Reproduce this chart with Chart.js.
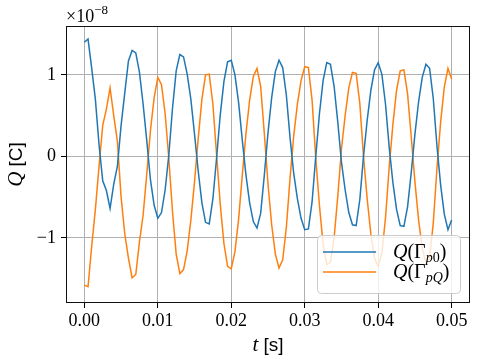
<!DOCTYPE html>
<html>
<head>
<meta charset="utf-8">
<script src="https://cdn.jsdelivr.net/npm/chart.js@4.4.0/dist/chart.umd.min.js"></script>
<style>
  html, body { margin: 0; padding: 0; background: #fff; }
</style>
</head>
<body>
<canvas id="js--chart" width="479" height="363"></canvas>
<script>
// sample times [s]
const times = [
  0, 0.0005, 0.001, 0.0015, 0.002, 0.0025, 0.003, 0.0035, 0.004, 0.0045,
  0.005, 0.0055, 0.006, 0.0065, 0.007, 0.0075, 0.008, 0.0085, 0.009, 0.0095,
  0.01, 0.0105, 0.011, 0.0115, 0.012, 0.0125, 0.013, 0.0135, 0.014, 0.0145,
  0.015, 0.0155, 0.016, 0.0165, 0.017, 0.0175, 0.018, 0.0185, 0.019, 0.0195,
  0.02, 0.0205, 0.021, 0.0215, 0.022, 0.0225, 0.023, 0.0235, 0.024, 0.0245,
  0.025, 0.0255, 0.026, 0.0265, 0.027, 0.0275, 0.028, 0.0285, 0.029, 0.0295,
  0.03, 0.0305, 0.031, 0.0315, 0.032, 0.0325, 0.033, 0.0335, 0.034, 0.0345,
  0.035, 0.0355, 0.036, 0.0365, 0.037, 0.0375, 0.038, 0.0385, 0.039, 0.0395,
  0.04, 0.0405, 0.041, 0.0415, 0.042, 0.0425, 0.043, 0.0435, 0.044, 0.0445,
  0.045, 0.0455, 0.046, 0.0465, 0.047, 0.0475, 0.048, 0.0485, 0.049, 0.0495,
  0.05
];

// charge in units of 1e-8 C
const qP0 = [
  1.40, 1.44, 1.08, 0.70, 0.14, -0.30, -0.42, -0.64, -0.34, -0.12,
  0.38, 0.78, 1.17, 1.30, 1.27, 1.03, 0.64, 0.19, -0.29, -0.60,
  -0.76, -0.69, -0.41, 0.02, 0.59, 1.05, 1.25, 1.22, 1.01, 0.70,
  0.27, -0.18, -0.57, -0.81, -0.83, -0.52, -0.02, 0.51, 0.92, 1.16,
  1.18, 1.00, 0.66, 0.20, -0.23, -0.57, -0.80, -0.88, -0.70, -0.23,
  0.29, 0.72, 1.04, 1.18, 1.09, 0.75, 0.23, -0.21, -0.52, -0.76,
  -0.90, -0.89, -0.56, 0.00, 0.52, 0.93, 1.15, 1.13, 0.86, 0.42,
  -0.07, -0.41, -0.69, -0.84, -0.85, -0.53, 0.00, 0.44, 0.81, 1.06,
  1.15, 1.01, 0.64, 0.11, -0.32, -0.65, -0.85, -0.86, -0.62, -0.20,
  0.27, 0.67, 0.97, 1.13, 1.08, 0.71, 0.13, -0.35, -0.71, -0.90,
  -0.78
];

const qPQ = [
  -1.58, -1.60, -1.10, -0.65, -0.12, 0.38, 0.58, 0.84, 0.50, 0.18,
  -0.50, -0.95, -1.25, -1.49, -1.45, -1.05, -0.72, -0.21, 0.32, 0.72,
  0.97, 0.88, 0.52, -0.03, -0.68, -1.20, -1.44, -1.39, -1.16, -0.78,
  -0.31, 0.22, 0.70, 1.00, 1.01, 0.64, 0.02, -0.59, -1.07, -1.35,
  -1.38, -1.17, -0.77, -0.23, 0.28, 0.69, 0.98, 1.08, 0.86, 0.28,
  -0.34, -0.84, -1.20, -1.37, -1.27, -0.87, -0.27, 0.25, 0.64, 0.93,
  1.10, 1.09, 0.69, -0.02, -0.60, -1.08, -1.33, -1.30, -1.00, -0.49,
  0.09, 0.50, 0.84, 1.03, 1.02, 0.65, 0.00, -0.52, -0.95, -1.25,
  -1.35, -1.19, -0.75, -0.13, 0.39, 0.81, 1.05, 1.06, 0.77, 0.24,
  -0.31, -0.78, -1.13, -1.30, -1.25, -0.82, -0.15, 0.42, 0.85, 1.08,
  0.95
];

const xTicks = [0, 0.01, 0.02, 0.03, 0.04, 0.05];
const yTicks = [-1, 0, 1];
const legendSubs = ["p0", "pQ"];
const colors = ["#1f77b4", "#ff7f0e"];

function toPoints(vals) {
  return vals.map(function (v, i) { return { x: times[i], y: v }; });
}

const SERIF = "'Liberation Serif', 'DejaVu Serif', serif";
const SANS = "'Liberation Sans', 'DejaVu Sans', sans-serif";

function drawRuns(ctx, runs, x, y, align) {
  let w = 0;
  runs.forEach(function (r) { ctx.font = r.font; w += ctx.measureText(r.text).width; });
  let cx = align === "center" ? x - w / 2 : x;
  runs.forEach(function (r) {
    ctx.font = r.font;
    ctx.fillText(r.text, cx, y + (r.dy || 0));
    cx += ctx.measureText(r.text).width;
  });
}

// box, axis labels, offset text and legend
const extras = {
  id: "extras",
  afterDraw(chart) {
    const ctx = chart.ctx;
    const a = chart.chartArea;
    ctx.save();
    ctx.strokeStyle = "#111";
    ctx.lineWidth = 1;
    ctx.strokeRect(a.left + 0.5, a.top + 0.5, a.right - a.left - 1, a.bottom - a.top - 1);

    ctx.fillStyle = "#000";
    ctx.textBaseline = "alphabetic";
    ctx.textAlign = "left";

    // x label
    drawRuns(ctx, [
      { text: "t", font: "italic 21px " + SERIF },
      { text: " [s]", font: "19px " + SANS }
    ], (a.left + a.right) / 2, 351, "center");

    // y label
    ctx.save();
    ctx.translate(22, (a.top + a.bottom) / 2);
    ctx.rotate(-Math.PI / 2);
    drawRuns(ctx, [
      { text: "Q", font: "italic 21px " + SERIF },
      { text: " [C]", font: "19px " + SANS }
    ], 0, 0, "center");
    ctx.restore();

    // offset text
    drawRuns(ctx, [
      { text: "\u00d710", font: "18px " + SERIF },
      { text: "\u22128", font: "13px " + SERIF, dy: -8 }
    ], 66, 22, "left");

    // legend
    const lx = 317, ly = 235, lw = 143, lh = 58;
    ctx.beginPath();
    ctx.roundRect(lx + 0.5, ly + 0.5, lw, lh, 4);
    ctx.fillStyle = "rgba(255,255,255,0.8)";
    ctx.fill();
    ctx.strokeStyle = "#cccccc";
    ctx.lineWidth = 1;
    ctx.stroke();

    legendSubs.forEach(function (sub, k) {
      const yy = 252 + k * 20;
      ctx.strokeStyle = colors[k];
      ctx.lineWidth = 1.5;
      ctx.beginPath();
      ctx.moveTo(323, yy);
      ctx.lineTo(376, yy);
      ctx.stroke();
      ctx.fillStyle = "#000";
      drawRuns(ctx, [
        { text: "Q", font: "italic 20px " + SERIF },
        { text: "(\u0393", font: "20px " + SERIF },
        { text: sub.charAt(0), font: "italic 14px " + SERIF, dy: 4 },
        { text: sub.charAt(1), font: (sub.charAt(1) === "0" ? "" : "italic ") + "14px " + SERIF, dy: 4 },
        { text: ")", font: "20px " + SERIF }
      ], 393, yy + 6, "left");
    });
    ctx.restore();
  }
};

const config = {
  type: "line",
  data: {
    datasets: [
      { label: "Q(Γp0)", data: toPoints(qP0), borderColor: colors[0], borderWidth: 1.5, pointRadius: 0, tension: 0 },
      { label: "Q(ΓpQ)", data: toPoints(qPQ), borderColor: colors[1], borderWidth: 1.5, pointRadius: 0, tension: 0 }
    ]
  },
  options: {
    responsive: false,
    animation: false,
    layout: { padding: { left: 0, top: 26, right: 9, bottom: 0 } },
    plugins: { legend: { display: false }, tooltip: { enabled: false } },
    scales: {
      x: {
        type: "linear",
        min: -0.0025,
        max: 0.0525,
        afterBuildTicks: function (s) { s.ticks = xTicks.map(function (v) { return { value: v }; }); },
        afterFit: function (s) { s.height = 60; },
        grid: { color: "#b0b0b0", lineWidth: 1, tickLength: 5, tickColor: "#000", drawTicks: true },
        border: { display: false },
        ticks: {
          color: "#000",
          font: { family: SERIF, size: 18 },
          padding: 2,
          maxRotation: 0,
          autoSkip: false,
          callback: function (v) { return v.toFixed(2); }
        }
      },
      y: {
        type: "linear",
        min: -1.8,
        max: 1.6,
        afterBuildTicks: function (s) { s.ticks = yTicks.map(function (v) { return { value: v }; }); },
        afterFit: function (s) { s.width = 66; },
        grid: { color: "#b0b0b0", lineWidth: 1, tickLength: 5, tickColor: "#000", drawTicks: true },
        border: { display: false },
        ticks: {
          color: "#000",
          font: { family: SERIF, size: 18 },
          padding: 5,
          callback: function (v) { return v < 0 ? "\u2212" + Math.abs(v) : String(v); }
        }
      }
    }
  },
  plugins: [extras]
};

new Chart(document.getElementById("js--chart"), config);
</script>
</body>
</html>
